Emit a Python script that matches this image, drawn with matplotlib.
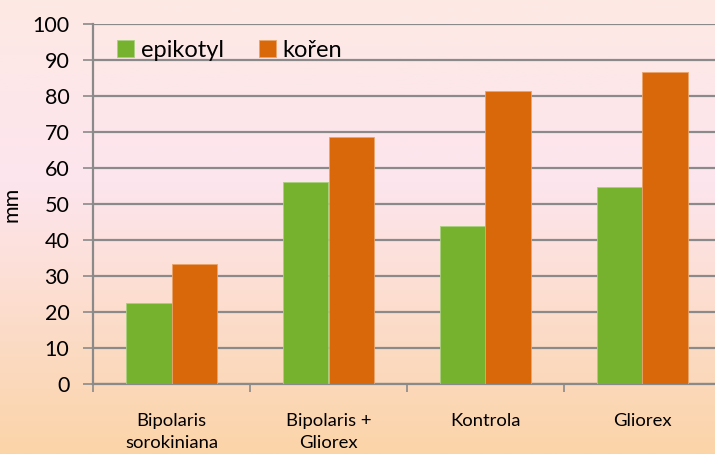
import matplotlib
matplotlib.use("Agg")
import matplotlib.pyplot as plt
import numpy as np
from matplotlib.colors import LinearSegmentedColormap

categories = ["Bipolaris\nsorokiniana", "Bipolaris +\nGliorex", "Kontrola", "Gliorex"]
epikotyl = [22.4, 56.0, 43.9, 54.8]
koren = [33.2, 68.6, 81.4, 86.6]
yticks = [0, 10, 20, 30, 40, 50, 60, 70, 80, 90, 100]

plt.rcParams['font.family'] = ['Lato', 'DejaVu Sans']

fig = plt.figure(figsize=(7.15, 4.54), dpi=100)

# gradient background
bg = fig.add_axes([0, 0, 1, 1], zorder=-10)
cmap = LinearSegmentedColormap.from_list(
    "bg", [(0.0, (253/255, 233/255, 228/255)),
           (0.4, (253/255, 229/255, 238/255)),
           (1.0, (251/255, 212/255, 168/255))])
grad = np.linspace(0, 1, 256).reshape(-1, 1)
bg.imshow(grad, aspect='auto', cmap=cmap, extent=[0, 1, 0, 1], origin='upper')
bg.set_axis_off()

ax = fig.add_axes([93/715, 70/454, 628/715, 360/454])
ax.patch.set_alpha(0)

x = np.arange(len(categories))
w = 0.287
ax.bar(x - w/2, epikotyl, w, color='#77b22f', edgecolor='#a9cf7f', linewidth=0.6, label='epikotyl', zorder=3)
ax.bar(x + w/2, koren, w, color='#d8680a', edgecolor='#eaa46a', linewidth=0.6, label='kořen', zorder=3)

ax.set_xlim(-0.5, 3.5)
ax.set_ylim(0, 100)
ax.set_yticks(yticks)
ax.set_yticklabels([str(v) for v in yticks], fontsize=15.5)
ax.yaxis.grid(True, color='#8a8a8a', linewidth=1.6, zorder=0)
ax.set_axisbelow(True)

ax.set_xticks(x)
ax.set_xticklabels(categories, fontsize=13.3, linespacing=1.45)
ax.set_xticks(np.arange(-0.5, 4.0, 1.0), minor=True)
ax.tick_params(axis='x', which='major', length=0, pad=21)
ax.tick_params(axis='x', which='minor', length=6, width=1.2, color='#8a8a8a')
ax.tick_params(axis='y', length=7, width=1.2, color='#8a8a8a', pad=10)

for s in ['top', 'right']:
    ax.spines[s].set_visible(False)
ax.spines['left'].set_color('#8a8a8a')
ax.spines['left'].set_linewidth(1.6)
ax.spines['bottom'].set_color('#8a8a8a')
ax.spines['bottom'].set_linewidth(1.6)

ax.set_ylabel('mm', fontsize=15.5, labelpad=8)

leg = ax.legend(loc='upper left', bbox_to_anchor=(0.005, 1.015), ncol=2, frameon=False,
                fontsize=17, handlelength=0.72, handleheight=0.72, handletextpad=0.3,
                columnspacing=1.45)

fig.savefig("out.png", dpi=100)
